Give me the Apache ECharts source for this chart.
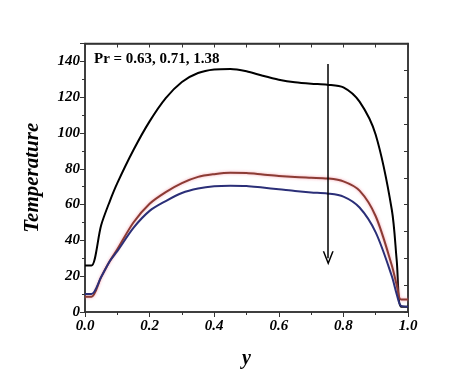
<!DOCTYPE html>
<html><head><meta charset="utf-8">
<script src="https://cdn.jsdelivr.net/npm/echarts@6/dist/echarts.min.js"></script>
<style>html,body{margin:0;padding:0;background:#fff}#c{width:474px;height:374px}</style>
</head><body><div id="c"></div>
<script>
var xs = [0, 0.02, 0.05, 0.077, 0.1, 0.15, 0.2, 0.25, 0.3, 0.35, 0.4, 0.45, 0.5, 0.55, 0.6, 0.65, 0.7, 0.75, 0.8, 0.85, 0.9, 0.95, 0.965, 0.978, 1.0];
var pr063 = [26, 26, 48.5, 62, 72, 90.5, 106.5, 119.5, 128.5, 133.5, 135.5, 135.8, 134.5, 132, 129.8, 128.3, 127.5, 127, 125.5, 117.5, 99, 57, 29, 3, 3];
var pr071 = [8.5, 8.5, 19.5, 28.5, 35, 50, 60.5, 67, 72, 75.5, 77, 77.8, 77.6, 76.8, 76, 75.4, 75, 74.6, 73, 67.8, 53.5, 26, 15, 7, 7];
var pr138 = [10, 10, 19.5, 28.5, 34, 47, 56.5, 62, 66.5, 69, 70.3, 70.6, 70.4, 69.5, 68.6, 67.6, 66.8, 66.2, 64.5, 58.4, 44.5, 20, 10, 3.5, 3];
var arrowX = 0.753, arrowTop = 138.5, arrowTip = 30;
var annotation = 'Pr = 0.63, 0.71, 1.38';
var xName = 'y', yName = 'Temperature';

function pairs(v){ return xs.map(function(x,i){ return [x, v[i]]; }); }
var serifBI = {fontFamily:'Liberation Serif', fontWeight:'bold', fontStyle:'italic', color:'#000'};
var axisCol = '#333';
var chart = echarts.init(document.getElementById('c'));
chart.setOption({
  animation:false,
  backgroundColor:'#fff',
  grid:{left:85, right:66, top:43.5, bottom:62, show:true, borderColor:axisCol, borderWidth:1.5, backgroundColor:'transparent'},
  title:{text:annotation, left:89, top:47, textStyle:{fontFamily:'Liberation Serif', fontWeight:'bold', fontSize:15, color:'#000'}},
  xAxis:[{
    type:'value', min:0, max:1, interval:0.2,
    name:xName, nameLocation:'middle', nameGap:37,
    nameTextStyle:Object.assign({fontSize:20}, serifBI),
    axisLine:{show:true, onZero:false, lineStyle:{color:axisCol, width:1.5}},
    axisTick:{show:true, length:5, lineStyle:{color:axisCol}},
    minorTick:{show:true, splitNumber:2, length:3, lineStyle:{color:axisCol}},
    axisLabel:Object.assign({fontSize:15, margin:7, formatter:function(v){return v.toFixed(1);}}, serifBI),
    splitLine:{show:false}
  },{
    type:'value', min:0, max:1, interval:0.1, position:'top',
    axisLine:{show:true, onZero:false, lineStyle:{color:axisCol, width:1.5}},
    axisTick:{show:true, inside:true, length:4, lineStyle:{color:axisCol}},
    axisLabel:{show:false}, splitLine:{show:false}
  }],
  yAxis:[{
    type:'value', min:0, max:150, interval:20,
    name:yName, nameLocation:'middle', nameGap:42,
    nameTextStyle:Object.assign({fontSize:21}, serifBI),
    axisLine:{show:true, onZero:false, lineStyle:{color:axisCol, width:1.5}},
    axisTick:{show:true, length:5, lineStyle:{color:axisCol}},
    minorTick:{show:true, splitNumber:2, length:3, lineStyle:{color:axisCol}},
    axisLabel:Object.assign({fontSize:15, margin:5, showMaxLabel:false}, serifBI),
    splitLine:{show:false}
  },{
    type:'value', min:0, max:150, interval:15, position:'right',
    axisLine:{show:true, onZero:false, lineStyle:{color:axisCol, width:1.5}},
    axisTick:{show:true, inside:true, length:4, lineStyle:{color:axisCol}},
    axisLabel:{show:false}, splitLine:{show:false}
  }],
  series:[{
    type:'line', name:'Pr=0.63', data:pairs(pr063), smooth:0.3, showSymbol:false,
    lineStyle:{color:'#000', width:2},
    markLine:{
      silent:true, symbol:['none','path://M5,0 L10,12 L8.6,12 L5,3.5 L1.4,12 L0,12 Z'], symbolSize:[11,14],
      label:{show:false}, lineStyle:{color:'#000', width:1.5, type:'solid'},
      data:[[{coord:[arrowX, arrowTop]},{coord:[arrowX, arrowTip]}]]
    }
  },{
    type:'line', name:'Pr=0.71', data:pairs(pr071), smooth:0.3, showSymbol:false,
    lineStyle:{color:'#8c3b34', width:2, shadowColor:'rgba(240,130,150,0.75)', shadowBlur:3}
  },{
    type:'line', name:'Pr=1.38', data:pairs(pr138), smooth:0.3, showSymbol:false,
    lineStyle:{color:'#2b2f78', width:2}
  },{
    type:'line', name:'frame', xAxisIndex:1, yAxisIndex:1, data:[], silent:true, showSymbol:false
  }]
});
</script></body></html>
